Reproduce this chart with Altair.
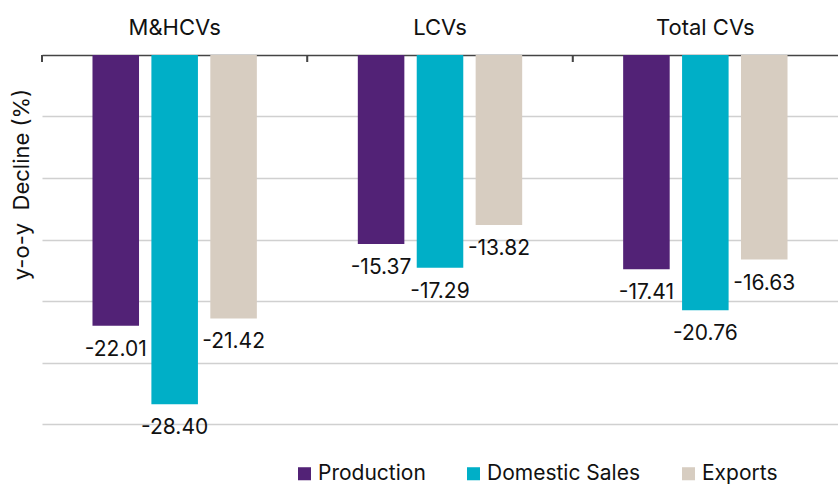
import altair as alt
import pandas as pd

groups = ["M&HCVs", "LCVs", "Total CVs"]
series = ["Production", "Domestic Sales", "Exports"]
production = [-22.01, -15.37, -17.41]
domestic = [-28.40, -17.29, -20.76]
exports = [-21.42, -13.82, -16.63]
colors = ["#522276", "#00AFC7", "#D7CDC1"]
grid_values = [-30, -25, -20, -15, -10, -5]

rows = []
for i, g in enumerate(groups):
    for s, vals in zip(series, [production, domestic, exports]):
        rows.append({"group": g, "series": s, "value": vals[i], "label": f"{vals[i]:.2f}"})
df = pd.DataFrame(rows)

FONT = "Inter"
W, H = 796, 369

x_axis = alt.Axis(orient="top", title=None, ticks=False, labelFontSize=22, labelFont=FONT,
                  labelColor="#111111", labelPadding=16, domainColor="#444444", domainWidth=1.5,
                  labelAngle=0, grid=False)
x_scale = alt.Scale(paddingInner=0, paddingOuter=0)

x = alt.X("group:N", sort=groups, scale=x_scale, axis=x_axis)
xo = alt.XOffset("series:N", sort=series, scale=alt.Scale(paddingInner=0.21, paddingOuter=0.857))
y = alt.Y("value:Q", scale=alt.Scale(domain=[-30, 0], nice=False, zero=False),
          axis=alt.Axis(title="y-o-y\u00a0 Decline (%)", labels=False, ticks=False, domain=False,
                        values=grid_values, gridColor="#d0d0d0", gridWidth=1.5,
                        titleFontSize=22, titleFont=FONT, titleFontWeight="normal",
                        titleColor="#111111", titleX=-21, titleY=129, titleAlign="center",
                        titleBaseline="middle", titleAngle=-90))

color = alt.Color("series:N", sort=series, scale=alt.Scale(domain=series, range=colors),
                  legend=alt.Legend(orient="none", legendX=252, legendY=408, direction="horizontal",
                                    title=None, symbolType="square", symbolSize=170,
                                    labelFontSize=21, labelFont=FONT, labelColor="#111111",
                                    labelLimit=400, symbolStrokeWidth=0, columnPadding=37,
                                    labelOffset=3))

base = alt.Chart(df)

bars = base.mark_bar().encode(x=x, xOffset=xo, y=y, color=color)

labels = base.mark_text(fontSize=21, font=FONT, baseline="middle", dy=24, color="#111111").encode(
    x=x, xOffset=xo, y=alt.Y("value:Q"), text=alt.Text("label:N"))

ticks = base.mark_rule(color="#444444", strokeWidth=1.5).encode(
    x=alt.X("group:N", sort=groups, scale=x_scale, axis=x_axis, bandPosition=0),
    y=alt.value(0), y2=alt.value(7))

chart = alt.layer(bars, labels, ticks).properties(
    width=W, height=H,
    autosize=alt.AutoSizeParams(type="none"),
    padding={"left": 42, "top": 55, "right": 0, "bottom": 61},
    background="white",
).configure_view(stroke=None)

chart.save("out.html", embed_options={"renderer": "svg", "actions": False})
